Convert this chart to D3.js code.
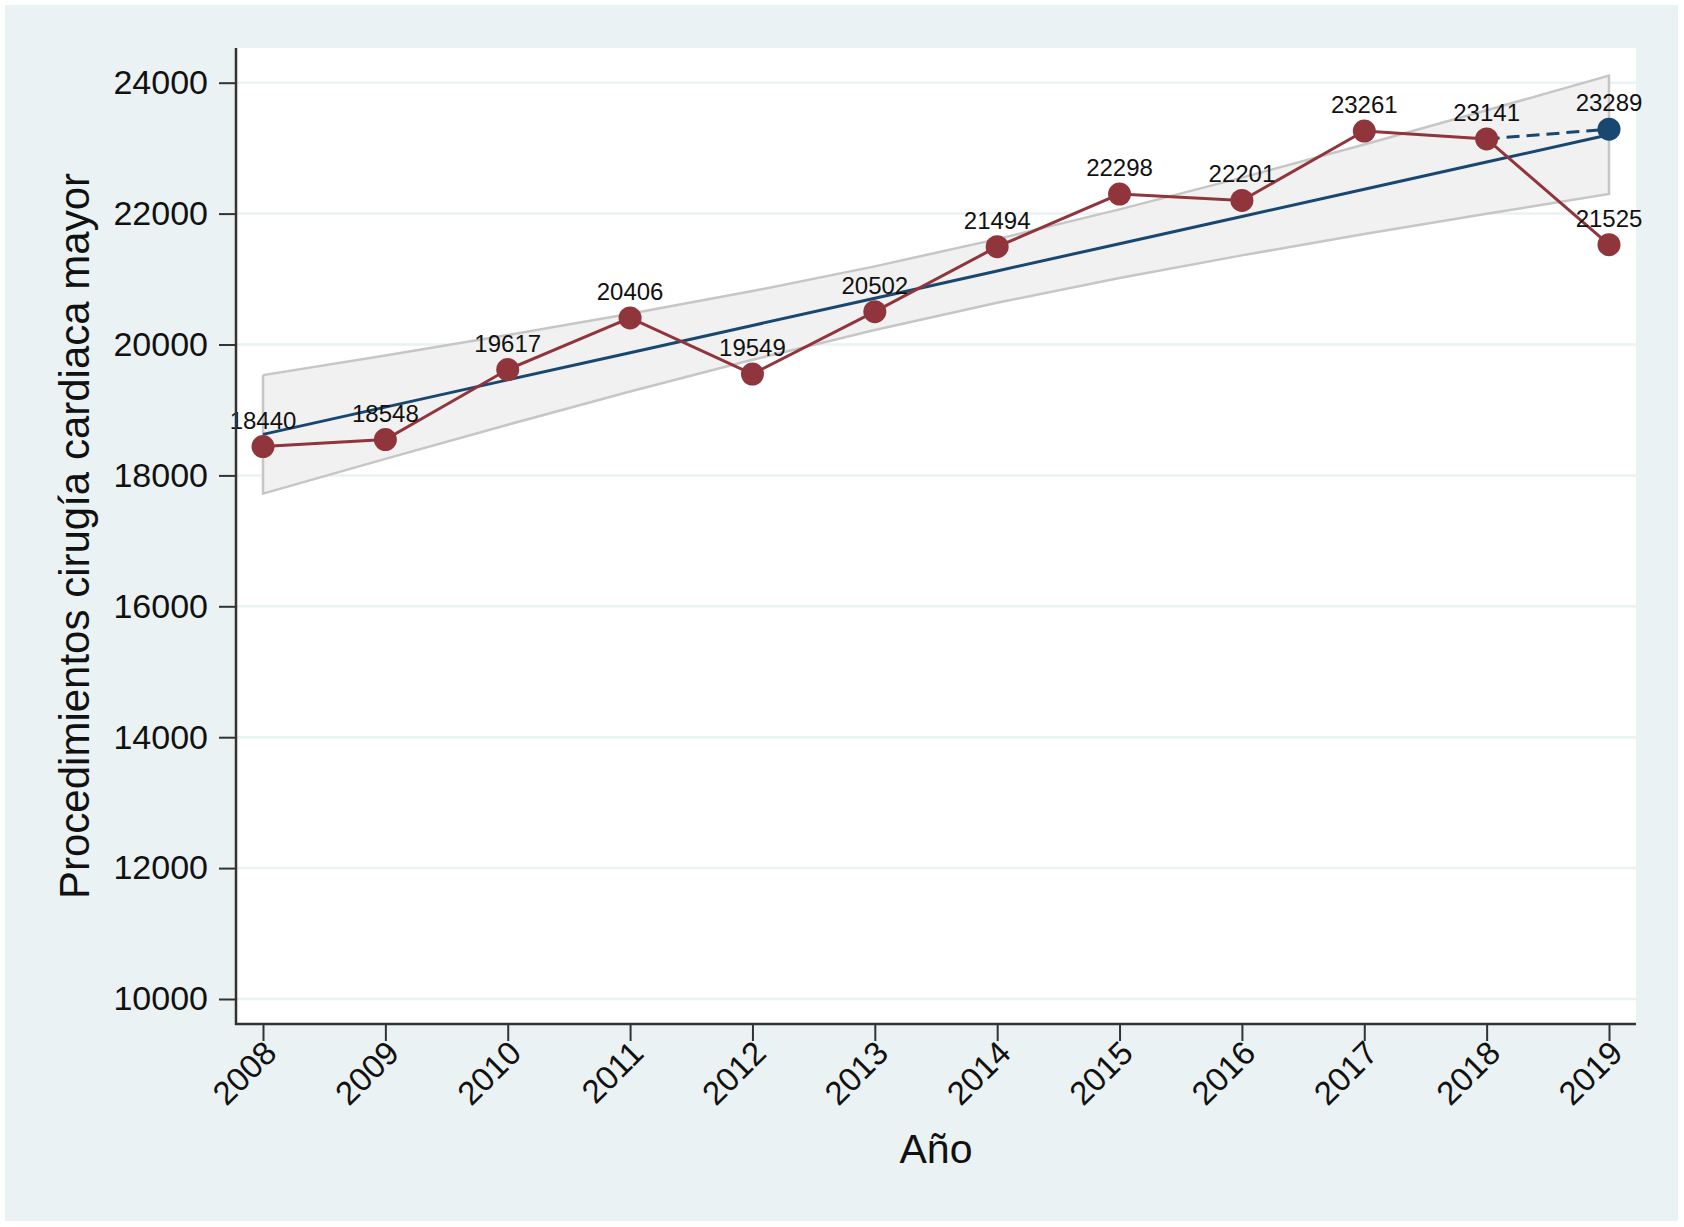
<!DOCTYPE html>
<html>
<head>
<meta charset="utf-8">
<script src="https://cdn.jsdelivr.net/npm/d3@7"></script>
<style>
  body { margin: 0; background: #fff; }
  svg { display: block; font-family: "Liberation Sans", Arial, Helvetica, sans-serif; }
</style>
</head>
<body>
<svg id="chart"></svg>
<script>
// data
const years = [2008, 2009, 2010, 2011, 2012, 2013, 2014, 2015, 2016, 2017, 2018, 2019];
const procedures = [18440, 18548, 19617, 20406, 19549, 20502, 21494, 22298, 22201, 23261, 23141, 21525];
const projYears = [2018, 2019];
const projValues = [23141, 23289];
// linear fit and its 95% band, estimated at each year
const fitValues = [18627, 19043, 19459, 19875, 20291, 20708, 21124, 21540, 21956, 22372, 22788, 23204];
const bandUpper = [19532, 19833, 20144, 20469, 20816, 21194, 21610, 22065, 22550, 23057, 23578, 24109];
const bandLower = [17722, 18253, 18774, 19281, 19766, 20222, 20638, 21015, 21362, 21687, 21998, 22299];
const yTicks = [10000, 12000, 14000, 16000, 18000, 20000, 22000, 24000];

const W = 1684, H = 1227;
const red = '#90353b', navy = '#1a476f', bg = '#eaf2f3';
const plot = { left: 236, right: 1636, top: 48, bottom: 1024 };

const svg = d3.select('#chart').attr('width', W).attr('height', H);

svg.append('rect').attr('x', 5).attr('y', 5).attr('width', 1673).attr('height', 1216).attr('fill', bg);
svg.append('rect')
    .attr('x', plot.left).attr('y', plot.top)
    .attr('width', plot.right - plot.left).attr('height', plot.bottom - plot.top)
    .attr('fill', '#fff');

const xScale = d3.scaleLinear().domain([2008, 2019]).range([263, 1609]);
const yScale = d3.scaleLinear().domain([10000, 24000]).range([999, 82.7]);

// grid
svg.append('g').selectAll('line').data(yTicks).join('line')
    .attr('x1', plot.left).attr('x2', plot.right)
    .attr('y1', d => yScale(d)).attr('y2', d => yScale(d))
    .attr('stroke', bg).attr('stroke-width', 2.5);

// confidence band
const band = years.map((y, i) => ({ x: y, lo: bandLower[i], hi: bandUpper[i] }));
svg.append('path').datum(band)
    .attr('d', d3.area().x(d => xScale(d.x)).y0(d => yScale(d.lo)).y1(d => yScale(d.hi)))
    .attr('fill', '#f1f1f1');
const outline = band.map(d => [d.x, d.hi])
    .concat(band.slice().reverse().map(d => [d.x, d.lo]))
    .concat([[band[0].x, band[0].hi]]);
svg.append('path').datum(outline)
    .attr('d', d3.line().x(d => xScale(d[0])).y(d => yScale(d[1])))
    .attr('fill', 'none').attr('stroke', '#c6c6c6').attr('stroke-width', 2.5);

// fit line
svg.append('path').datum(years.map((y, i) => [y, fitValues[i]]))
    .attr('d', d3.line().x(d => xScale(d[0])).y(d => yScale(d[1])))
    .attr('fill', 'none').attr('stroke', navy).attr('stroke-width', 3);

// observed series
const obs = years.map((y, i) => [y, procedures[i]]);
svg.append('path').datum(obs)
    .attr('d', d3.line().x(d => xScale(d[0])).y(d => yScale(d[1])))
    .attr('fill', 'none').attr('stroke', red).attr('stroke-width', 3);

// projection
const proj = projYears.map((y, i) => [y, projValues[i]]);
svg.append('path').datum(proj)
    .attr('d', d3.line().x(d => xScale(d[0])).y(d => yScale(d[1])))
    .attr('fill', 'none').attr('stroke', navy).attr('stroke-width', 3)
    .attr('stroke-dasharray', '13,7');

svg.append('g').selectAll('circle').data(obs).join('circle')
    .attr('cx', d => xScale(d[0])).attr('cy', d => yScale(d[1]))
    .attr('r', 11.5).attr('fill', red);
svg.append('circle')
    .attr('cx', xScale(proj[1][0])).attr('cy', yScale(proj[1][1]))
    .attr('r', 11.5).attr('fill', navy);

// labels
const labels = obs.concat([proj[1]]);
svg.append('g').selectAll('text').data(labels).join('text')
    .attr('x', d => xScale(d[0])).attr('y', d => yScale(d[1]) - 18)
    .attr('text-anchor', 'middle').attr('font-size', 24).attr('fill', '#111')
    .text(d => d[1]);

// axes
const yAxis = d3.axisLeft(yScale).tickValues(yTicks).tickFormat(d3.format('d'))
    .tickSize(17).tickPadding(11);
svg.append('g').attr('transform', 'translate(' + plot.left + ',0)')
    .call(yAxis)
    .call(g => {
        g.select('.domain').remove();
        g.selectAll('.tick line').attr('stroke', '#333').attr('stroke-width', 2);
        g.selectAll('.tick text').attr('font-size', 34).attr('fill', '#111').attr('font-family', null);
    });

const xAxis = d3.axisBottom(xScale).tickValues(years).tickFormat(d3.format('d')).tickSize(17);
svg.append('g').attr('transform', 'translate(0,' + plot.bottom + ')')
    .call(xAxis)
    .call(g => {
        g.select('.domain').remove();
        g.selectAll('.tick line').attr('stroke', '#333').attr('stroke-width', 2);
        g.selectAll('.tick text')
            .attr('x', 0).attr('y', 0).attr('dy', 0)
            .attr('transform', 'translate(15,31) rotate(-45)')
            .attr('text-anchor', 'end')
            .attr('font-size', 33).attr('fill', '#111').attr('font-family', null);
    });

svg.append('line').attr('x1', plot.left).attr('x2', plot.left)
    .attr('y1', plot.top).attr('y2', plot.bottom + 1)
    .attr('stroke', '#333').attr('stroke-width', 2.5);
svg.append('line').attr('x1', plot.left - 1).attr('x2', plot.right)
    .attr('y1', plot.bottom).attr('y2', plot.bottom)
    .attr('stroke', '#333').attr('stroke-width', 2.5);

// titles
svg.append('text').attr('x', 936).attr('y', 1163)
    .attr('text-anchor', 'middle').attr('font-size', 41).attr('fill', '#111')
    .text('Año');
svg.append('text').attr('transform', 'translate(89,536) rotate(-90)')
    .attr('text-anchor', 'middle').attr('font-size', 42).attr('fill', '#111')
    .text('Procedimientos cirugía cardiaca mayor');
</script>
</body>
</html>
